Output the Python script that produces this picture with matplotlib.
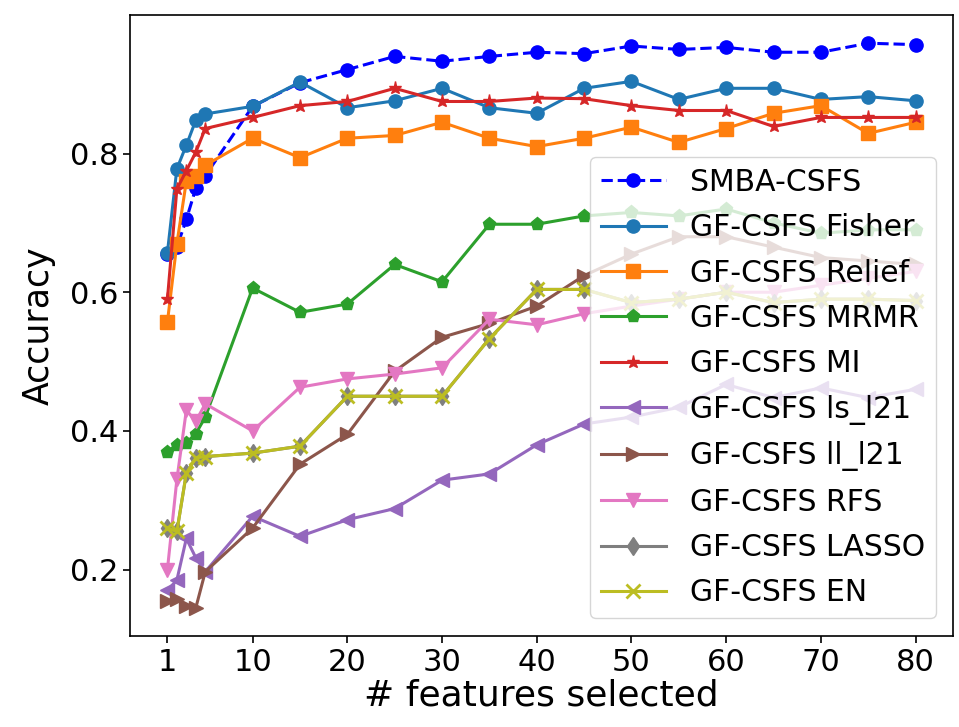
import matplotlib
matplotlib.use("Agg")
import matplotlib.pyplot as plt

n_features = [1, 2, 3, 4, 5, 10, 15, 20, 25, 30, 35, 40, 45, 50, 55, 60, 65, 70, 75, 80]

smba = [0.655, 0.665, 0.705, 0.750, 0.768, 0.868, 0.902, 0.921, 0.940, 0.933,
        0.940, 0.946, 0.944, 0.955, 0.950, 0.953, 0.946, 0.946, 0.959, 0.957]
fisher = [0.657, 0.778, 0.812, 0.848, 0.857, 0.868, 0.903, 0.866, 0.876, 0.894,
          0.866, 0.858, 0.894, 0.904, 0.878, 0.894, 0.894, 0.878, 0.882, 0.876]
relief = [0.557, 0.670, 0.760, 0.768, 0.783, 0.822, 0.794, 0.822, 0.826, 0.845,
          0.822, 0.810, 0.822, 0.838, 0.816, 0.836, 0.858, 0.869, 0.829, 0.845]
mrmr = [0.370, 0.380, 0.383, 0.396, 0.420, 0.606, 0.571, 0.583, 0.640, 0.615,
        0.698, 0.698, 0.710, 0.715, 0.710, 0.720, 0.700, 0.685, 0.690, 0.690]
mi = [0.590, 0.749, 0.775, 0.802, 0.836, 0.852, 0.869, 0.875, 0.894, 0.875,
      0.875, 0.880, 0.879, 0.869, 0.862, 0.862, 0.839, 0.852, 0.852, 0.852]
ls_l21 = [0.170, 0.185, 0.245, 0.217, 0.197, 0.277, 0.248, 0.272, 0.288, 0.329,
          0.338, 0.380, 0.410, 0.420, 0.434, 0.467, 0.448, 0.462, 0.448, 0.460]
ll_l21 = [0.155, 0.158, 0.148, 0.145, 0.197, 0.260, 0.352, 0.395, 0.486, 0.535,
          0.555, 0.580, 0.624, 0.655, 0.680, 0.680, 0.665, 0.650, 0.645, 0.640]
rfs = [0.200, 0.330, 0.430, 0.414, 0.439, 0.400, 0.463, 0.475, 0.482, 0.491,
       0.561, 0.553, 0.569, 0.580, 0.590, 0.600, 0.600, 0.610, 0.620, 0.630]
lasso = [0.260, 0.255, 0.339, 0.361, 0.363, 0.368, 0.378, 0.450, 0.450, 0.450,
         0.533, 0.604, 0.604, 0.585, 0.590, 0.600, 0.585, 0.590, 0.590, 0.588]
en = list(lasso)

x_ticks = [1, 10, 20, 30, 40, 50, 60, 70, 80]

fig = plt.figure(figsize=(9.59, 7.27), dpi=100)
ax = fig.add_axes([130 / 959, 1 - 636 / 727, (953 - 130) / 959, (636 - 15) / 727])

lw = 2.2
ms = 9.5
ax.plot(n_features, smba, 'b--', marker='o', lw=lw, ms=ms, label='SMBA-CSFS')
ax.plot(n_features, fisher, color='C0', marker='o', lw=lw, ms=ms, label='GF-CSFS Fisher')
ax.plot(n_features, relief, color='C1', marker='s', lw=lw, ms=ms, label='GF-CSFS Relief')
ax.plot(n_features, mrmr, color='C2', marker='p', lw=lw, ms=ms, label='GF-CSFS MRMR')
ax.plot(n_features, mi, color='C3', marker='*', lw=lw, ms=ms, label='GF-CSFS MI')
ax.plot(n_features, ls_l21, color='C4', marker='<', lw=lw, ms=ms, label='GF-CSFS ls_l21')
ax.plot(n_features, ll_l21, color='C5', marker='>', lw=lw, ms=ms, label='GF-CSFS ll_l21')
ax.plot(n_features, rfs, color='C6', marker='v', lw=lw, ms=ms, label='GF-CSFS RFS')
ax.plot(n_features, lasso, color='C7', marker='d', lw=lw, ms=ms, label='GF-CSFS LASSO')
ax.plot(n_features, en, color='C8', marker='x', lw=lw, ms=ms, mew=2, label='GF-CSFS EN')

ax.set_xticks(x_ticks)
ax.set_yticks([0.2, 0.4, 0.6, 0.8])
ax.tick_params(labelsize=22, length=5, width=1.2)
ax.set_xlabel('# features selected', fontsize=26, labelpad=1)
ax.set_ylabel('Accuracy', fontsize=25, labelpad=10)
for s in ax.spines.values():
    s.set_linewidth(1.2)

ax.legend(loc='upper left', bbox_to_anchor=(0.559, 0.771), borderaxespad=0,
          fontsize=21.5, handlelength=2.2, borderpad=0.35, labelspacing=0.55)

fig.savefig('out.png', dpi=100)
